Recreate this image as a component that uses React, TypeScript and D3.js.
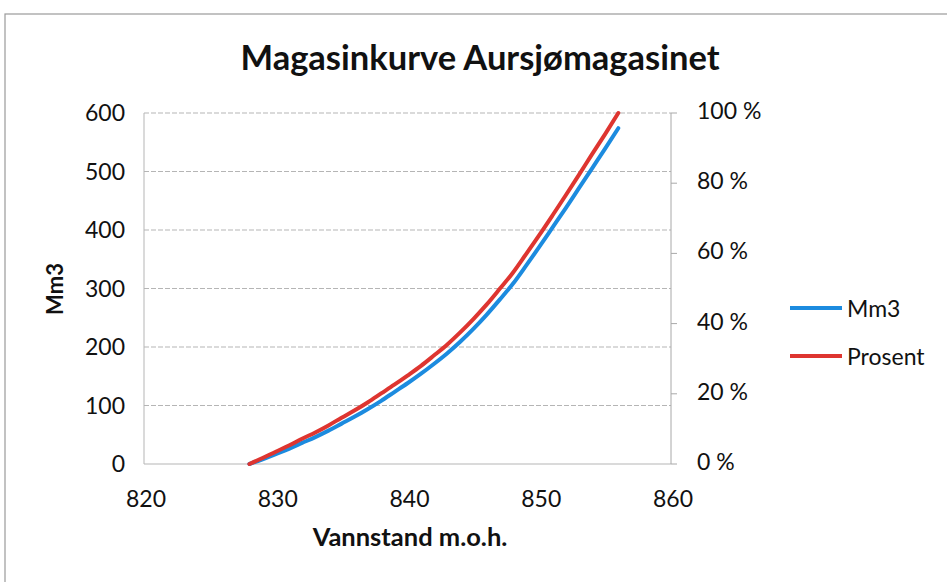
import React from "react";
import * as d3 from "d3";

const levels = [828,829,830,831,832,833,834,835,836,837,838,839,840,841,842,843,844,845,846,847,848,849,850,851,852,853,854,855,856];
const volumeMm3 = [0,8,17,26,36,46,57,69,81,94,108,123,138,154,171,189,209,231,255,281,308,339,371,404,437,471,505,539,574];
const percent = [0,1.7,3.5,5.25,7.2,9.0,11.0,13.2,15.3,17.6,20.1,22.6,25.2,27.9,30.9,34.0,37.5,41.3,45.4,49.9,54.5,59.8,65.2,70.8,76.5,82.3,88.2,94.0,100];
const xTicks = [820, 830, 840, 850, 860];
const yLeftTicks = [0, 100, 200, 300, 400, 500, 600];
const yRightTicks = [0, 20, 40, 60, 80, 100];
const seriesNames = ["Mm3", "Prosent"];
const title = "Magasinkurve Aursjømagasinet";
const xTitle = "Vannstand m.o.h.";
const yTitle = "Mm3";

const W = 947, H = 582;
const plot = { left: 144, right: 671, top: 113, bottom: 464 };
const BLUE = "#1C8BDF";
const RED = "#DE3530";
const FONT = "Lato, 'Open Sans', sans-serif";

export default function App() {
  const x = d3.scaleLinear().domain([820, 860]).range([plot.left, plot.right]);
  const yL = d3.scaleLinear().domain([0, 600]).range([plot.bottom, plot.top]);
  const yR = d3.scaleLinear().domain([0, 100]).range([plot.bottom, plot.top]);

  const lineL = d3.line<number>().x((_, i) => x(levels[i])).y((d) => yL(d)).curve(d3.curveMonotoneX);
  const lineR = d3.line<number>().x((_, i) => x(levels[i])).y((d) => yR(d)).curve(d3.curveMonotoneX);

  return (
    <svg width={W} height={H} style={{ position: "absolute", left: 0, top: 0, background: "#fff" }} fontFamily={FONT}>
      <rect x={5} y={14} width={980} height={620} fill="none" stroke="#9a9a9a" strokeWidth={1.2} />
      <text x={480} y={70} textAnchor="middle" fontSize={34.5} fontWeight="bold" fill="#111">{title}</text>

      {yLeftTicks.map((t) => (
        <line key={"g" + t} x1={plot.left} x2={plot.right} y1={yL(t)} y2={yL(t)} stroke="#b5b5b5" strokeWidth={1} strokeDasharray={t === 0 ? undefined : "5 2"} />
      ))}
      <line x1={plot.left} x2={plot.left} y1={plot.top} y2={plot.bottom} stroke="#b5b5b5" strokeWidth={1} />
      <line x1={plot.right} x2={plot.right} y1={plot.top} y2={plot.bottom} stroke="#a8a8a8" strokeWidth={1} />
      {yRightTicks.map((t) => (
        <line key={"rt" + t} x1={plot.right} x2={plot.right + 6} y1={yR(t)} y2={yR(t)} stroke="#a8a8a8" strokeWidth={1} />
      ))}

      {yLeftTicks.map((t) => (
        <text key={"yl" + t} x={125} y={yL(t) - 1} textAnchor="end" dominantBaseline="central" fontSize={23} fill="#111">{t}</text>
      ))}
      {yRightTicks.map((t) => (
        <text key={"yr" + t} x={697} y={yR(t) - 3} textAnchor="start" dominantBaseline="central" fontSize={23} fill="#111">{t + " %"}</text>
      ))}
      {xTicks.map((t) => (
        <text key={"x" + t} x={x(t) + 2} y={498} textAnchor="middle" dominantBaseline="central" fontSize={23} fill="#111">{t}</text>
      ))}

      <text x={410} y={546} textAnchor="middle" fontSize={25.5} fontWeight="bold" fill="#111">{xTitle}</text>
      <text transform="translate(63,289) rotate(-90)" textAnchor="middle" fontSize={22} fontWeight="bold" fill="#111">{yTitle}</text>

      <path d={lineL(volumeMm3) || ""} fill="none" stroke={BLUE} strokeWidth={4} strokeLinecap="round" />
      <path d={lineR(percent) || ""} fill="none" stroke={RED} strokeWidth={4} strokeLinecap="round" />

      {seriesNames.map((name, i) => {
        const ly = 308 + i * 48;
        return (
          <g key={name}>
            <line x1={790} x2={842} y1={ly} y2={ly} stroke={i === 0 ? BLUE : RED} strokeWidth={4} />
            <text x={847} y={ly} dominantBaseline="central" fontSize={23} fill="#111">{name}</text>
          </g>
        );
      })}
    </svg>
  );
}
